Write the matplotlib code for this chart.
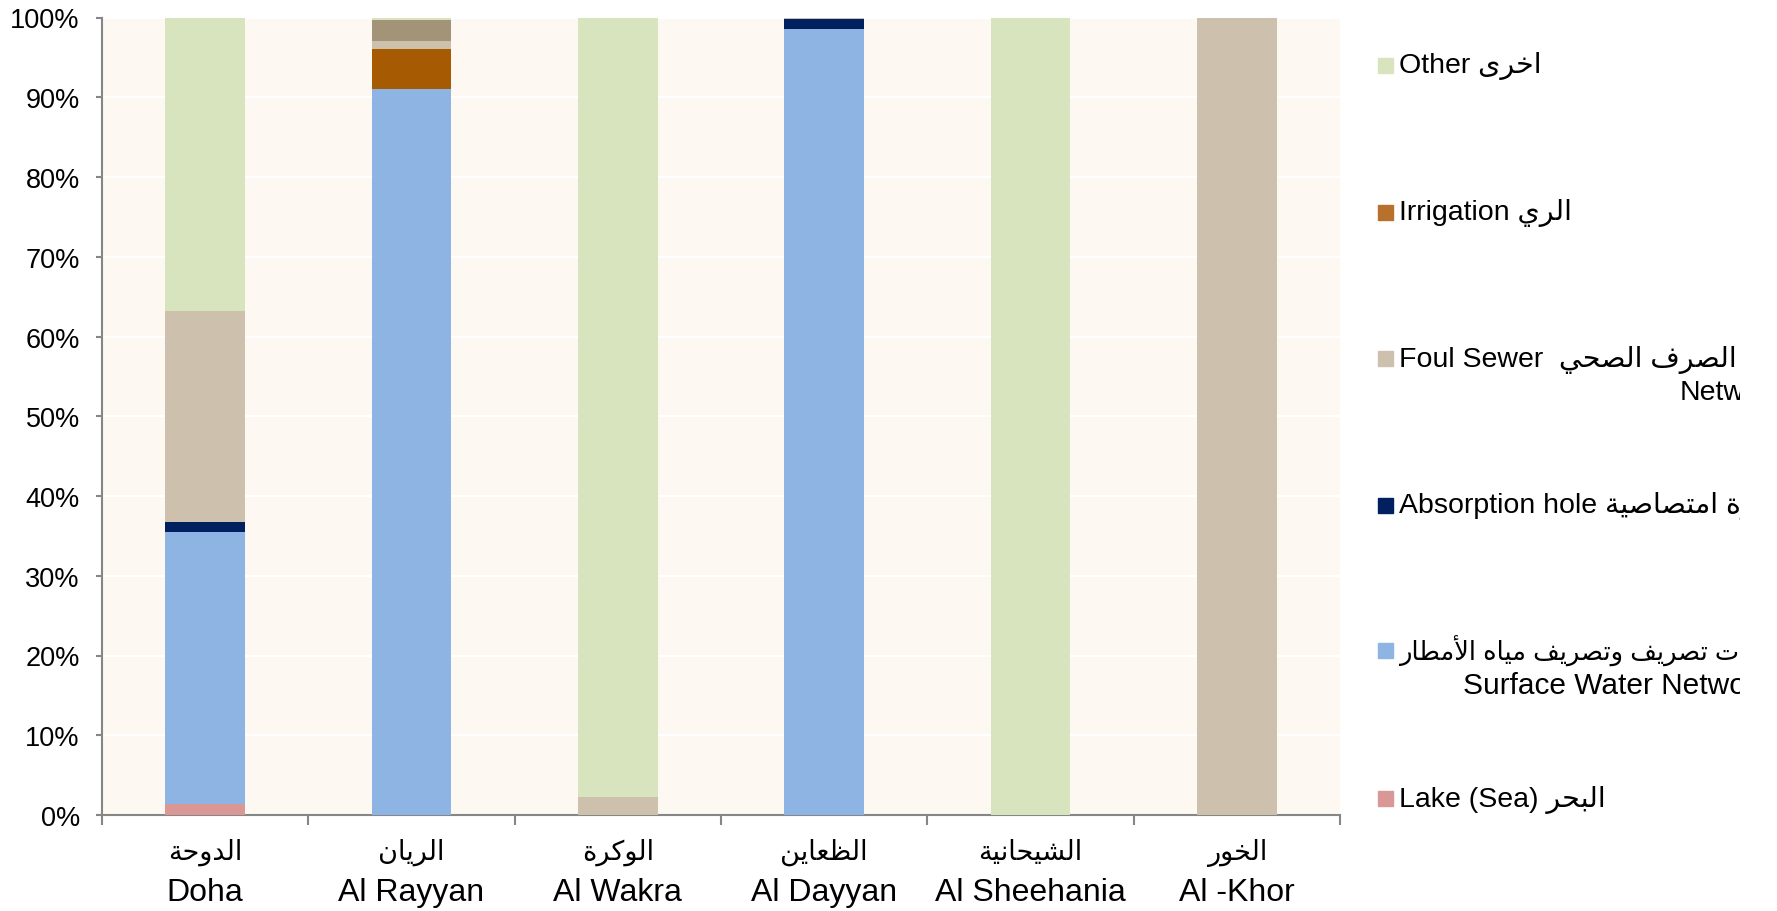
import matplotlib.pyplot as plt
from matplotlib.patches import Rectangle

plt.rcParams['font.family'] = ['Liberation Sans', 'DejaVu Sans']

# Arabic letter forms: isolated, final, initial, medial (2-form letters never join to the left)
FORMS = {
    'ا': (0xFE8D, 0xFE8E), 'أ': (0xFE83, 0xFE84),
    'ب': (0xFE8F, 0xFE90, 0xFE91, 0xFE92), 'ة': (0xFE93, 0xFE94),
    'ت': (0xFE95, 0xFE96, 0xFE97, 0xFE98), 'ح': (0xFEA1, 0xFEA2, 0xFEA3, 0xFEA4),
    'خ': (0xFEA5, 0xFEA6, 0xFEA7, 0xFEA8), 'د': (0xFEA9, 0xFEAA),
    'ر': (0xFEAD, 0xFEAE), 'ش': (0xFEB5, 0xFEB6, 0xFEB7, 0xFEB8),
    'ص': (0xFEB9, 0xFEBA, 0xFEBB, 0xFEBC), 'ط': (0xFEC1, 0xFEC2, 0xFEC3, 0xFEC4),
    'ظ': (0xFEC5, 0xFEC6, 0xFEC7, 0xFEC8), 'ع': (0xFEC9, 0xFECA, 0xFECB, 0xFECC),
    'ف': (0xFED1, 0xFED2, 0xFED3, 0xFED4), 'ك': (0xFED9, 0xFEDA, 0xFEDB, 0xFEDC),
    'ل': (0xFEDD, 0xFEDE, 0xFEDF, 0xFEE0), 'م': (0xFEE1, 0xFEE2, 0xFEE3, 0xFEE4),
    'ن': (0xFEE5, 0xFEE6, 0xFEE7, 0xFEE8), 'ه': (0xFEE9, 0xFEEA, 0xFEEB, 0xFEEC),
    'و': (0xFEED, 0xFEEE), 'ى': (0xFEEF, 0xFEF0),
    'ي': (0xFEF1, 0xFEF2, 0xFEF3, 0xFEF4),
}
LAM_ALEF = {'ا': (0xFEFB, 0xFEFC), 'أ': (0xFEF7, 0xFEF8)}


def shape(text):
    """Join Arabic letters and reverse them so they draw right to left."""
    chars = []
    i = 0
    while i < len(text):
        c = text[i]
        if c == 'ل' and i + 1 < len(text) and text[i + 1] in LAM_ALEF:
            chars.append(LAM_ALEF[text[i + 1]])
            i += 2
        else:
            chars.append(FORMS.get(c, c))
            i += 1
    out = []
    for k, forms in enumerate(chars):
        if isinstance(forms, str):
            out.append(forms)
            continue
        prev = chars[k - 1] if k > 0 else None
        nxt = chars[k + 1] if k + 1 < len(chars) else None
        join_prev = isinstance(prev, tuple) and len(prev) == 4
        join_next = len(forms) == 4 and isinstance(nxt, tuple)
        if join_prev and join_next:
            g = forms[3]
        elif join_prev:
            g = forms[1]
        elif join_next:
            g = forms[2]
        else:
            g = forms[0]
        out.append(chr(g))
    return ''.join(reversed(out))


# municipalities
cats_ar = ['الدوحة', 'الريان', 'الوكرة', 'الظعاين', 'الشيحانية', 'الخور']
cats_en = ['Doha', 'Al Rayyan', 'Al Wakra', 'Al Dayyan', 'Al Sheehania', 'Al -Khor']

# share of discharge destination (%), stacked bottom to top
lake = [1.4, 0, 0, 0, 0, 0]
surface = [34.1, 91.0, 0, 98.6, 0, 0]
absorption = [1.3, 0, 0, 1.25, 0, 0]
irrigation = [0, 5.1, 0, 0, 0, 0]
foul_sewer = [26.45, 0.9, 2.25, 0.15, 0, 100]
unlisted = [0, 2.7, 0, 0, 0, 0]
other = [36.75, 0.3, 97.75, 0, 100, 0]

series = [lake, surface, absorption, irrigation, foul_sewer, unlisted, other]
bar_colors = ['#d99795', '#8eb4e3', '#002060', '#a65b02', '#cdc1ae', '#a39477', '#d7e4bd']

yticks = [0, 10, 20, 30, 40, 50, 60, 70, 80, 90, 100]

fig = plt.figure(figsize=(17.77, 9.12), dpi=100)
ax = fig.add_axes([102 / 1777, 96 / 912, 1238 / 1777, 797.5 / 912])
ax.set_facecolor('#fdf8f2')

x = list(range(len(cats_en)))
bottom = [0.0] * len(x)
for vals, col in zip(series, bar_colors):
    ax.bar(x, vals, width=0.387, bottom=bottom, color=col, zorder=3)
    bottom = [b + v for b, v in zip(bottom, vals)]

ax.set_xlim(-0.5, len(x) - 0.5)
ax.set_ylim(0, 100)
ax.set_yticks(yticks)
ax.set_yticklabels([f'{t}%' for t in yticks], fontsize=19.5)
ax.yaxis.grid(True, color='white', linewidth=1.5, zorder=1)
ax.set_axisbelow(True)

ax.set_xticks(x)
ax.set_xticklabels([])
ax.tick_params(axis='x', which='major', length=0)
ax.set_xticks([i - 0.5 for i in range(len(x) + 1)], minor=True)
ax.tick_params(axis='x', which='minor', length=7, width=1.5, color='#868686', direction='out')
ax.tick_params(axis='y', length=4, width=1.5, color='#868686', direction='out', pad=12)

for side in ['top', 'right']:
    ax.spines[side].set_visible(False)
for side in ['left', 'bottom']:
    ax.spines[side].set_color('#868686')
    ax.spines[side].set_linewidth(1.5)

# two-line category labels under each bar
xt = ax.get_xaxis_transform()
for i, (ar, en) in enumerate(zip(cats_ar, cats_en)):
    ax.text(i, -0.046, shape(ar), transform=xt, ha='center', va='center', fontsize=19.5)
    ax.text(i, -0.097, en, transform=xt, ha='center', va='center', fontsize=23)

# legend, clipped on its right edge
lg = fig.add_axes([1370 / 1777, 0, 370 / 1777, 1])
lg.set_xlim(1370, 1740)
lg.set_ylim(912, 0)
lg.axis('off')

legend_colors = ['#d7e4bd', '#b8712d', '#cdc1ae', '#002060', '#8eb4e3', '#d99795']
legend_rows = [66.5, 213.5, 359.5, 506.5, 651, 800]
legend_lines = [
    [('Other ' + shape('اخرى'), 1399, 0, 20.5)],
    [('Irrigation ' + shape('الري'), 1399, 0, 20.5)],
    [('Foul Sewer  ' + shape('شبكات الصرف الصحي'), 1399, 0, 20.5), ('Network', 1680, 34, 20.5)],
    [('Absorption hole ' + shape('حفرة امتصاصية'), 1399, 0, 20.5)],
    [(shape('شبكات تصريف وتصريف مياه الأمطار'), 1399, 0, 18.5),
     ('Surface Water Network', 1463, 35, 21.5)],
    [('Lake (Sea) ' + shape('البحر'), 1399, 0, 20.5)],
]
for col, cy, lines in zip(legend_colors, legend_rows, legend_lines):
    lg.add_patch(Rectangle((1378, cy - 7.5), 15, 15, color=col))
    for txt, tx, dy, fs in lines:
        lg.text(tx, cy + dy, txt, ha='left', va='center', fontsize=fs, clip_on=True)

fig.savefig('out.png', dpi=100)
